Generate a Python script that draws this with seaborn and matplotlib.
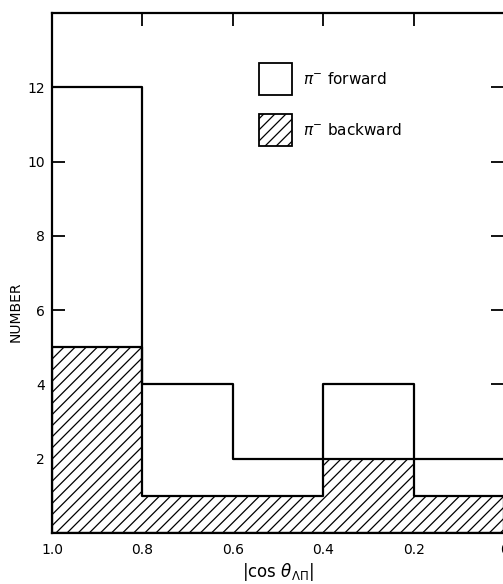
import numpy as np
import pandas as pd
import matplotlib
matplotlib.use("Agg")
import matplotlib.pyplot as plt
from matplotlib.patches import Patch
import seaborn as sns

# |cos theta| bins and event counts per bin (bins ordered from 0 to 1)
bin_edges = [0.0, 0.2, 0.4, 0.6, 0.8, 1.0]
forward_counts = [2, 4, 2, 4, 12]
backward_counts = [1, 2, 1, 1, 5]
x_tick_values = [1.0, 0.8, 0.6, 0.4, 0.2, 0.0]
x_tick_labels = ["1.0", "0.8", "0.6", "0.4", "0.2", "0"]
y_tick_values = [2, 4, 6, 8, 10, 12]
y_tick_labels = ["2", "4", "6", "8", "10", "12"]

centers = [(a + b) / 2 for a, b in zip(bin_edges[:-1], bin_edges[1:])]
df = pd.DataFrame({
    "cos": centers + centers,
    "n": forward_counts + backward_counts,
    "dir": ["forward"] * len(centers) + ["backward"] * len(centers),
})

sns.set_style("ticks")
plt.rcParams["font.family"] = ["DejaVu Sans"]
plt.rcParams["hatch.linewidth"] = 0.9
plt.rcParams["hatch.color"] = "black"
for key in ["text.color", "axes.labelcolor", "xtick.color", "ytick.color"]:
    plt.rcParams[key] = "black"

W, H = 503, 584
fig = plt.figure(figsize=(W / 100, H / 100), dpi=100)
ax = fig.add_axes([52 / W, (H - 533) / H, 452 / W, 520 / H])

# backward: hatched filled step histogram
sns.histplot(data=df[df["dir"] == "backward"], x="cos", weights="n",
             bins=bin_edges, element="step", fill=True,
             facecolor="white", edgecolor="black", linewidth=1.6,
             hatch="///", alpha=1, ax=ax, zorder=2)
# forward: open step outline
sns.histplot(data=df[df["dir"] == "forward"], x="cos", weights="n",
             bins=bin_edges, element="step", fill=False,
             color="black", linewidth=1.6, ax=ax, zorder=3)

ax.set_xlim(1.0, 0.0)
ax.set_ylim(0, 14)

ax.set_xticks(x_tick_values)
ax.set_xticklabels(x_tick_labels)
ax.set_yticks(y_tick_values)
ax.set_yticklabels(y_tick_labels)
ax.tick_params(axis="both", which="both", direction="in", length=9.5,
               width=1.3, colors="black", labelsize=10,
               top=True, right=True)
ax.tick_params(axis="x", pad=7)
ax.tick_params(axis="y", pad=5)
for s in ax.spines.values():
    s.set_visible(True)
    s.set_linewidth(1.6)
    s.set_color("black")

ax.set_xlabel(r"$|\mathrm{cos}\ \theta_{\Lambda\Pi}|$", fontsize=12, labelpad=3)
ax.set_ylabel("NUMBER", fontsize=10)
ax.yaxis.set_label_coords(-0.066, 0.425)

handles = [
    Patch(facecolor="white", edgecolor="black", linewidth=1.3),
    Patch(facecolor="white", edgecolor="black", linewidth=1.3, hatch="///"),
]
labels = [r"$\pi^{-}$ forward", r"$\pi^{-}$ backward"]
fs = 11
fs_px = fs * 100 / 72
box_h = 32 / fs_px
ax.legend(handles, labels, loc="upper left",
          bbox_to_anchor=(259 / W, 1 - 63 / H), bbox_transform=fig.transFigure,
          frameon=False, fontsize=fs, borderpad=0, borderaxespad=0,
          handlelength=33 / fs_px, handleheight=(box_h - 0.245) / 0.65,
          handletextpad=0.75, labelspacing=19 / fs_px)

fig.savefig("out.png", dpi=100)
